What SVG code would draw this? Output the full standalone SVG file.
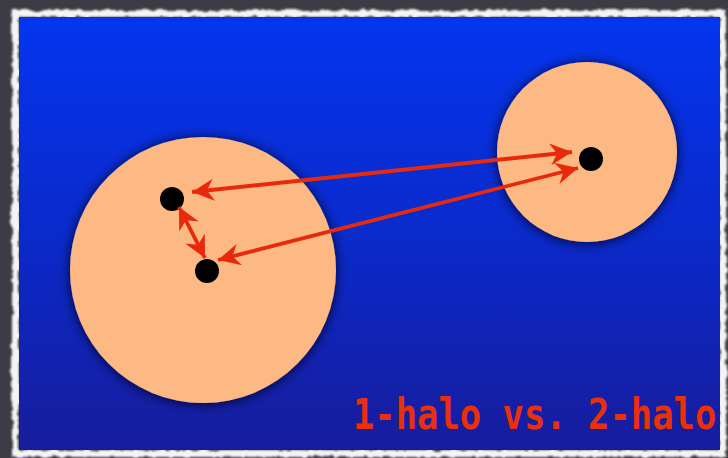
<svg xmlns="http://www.w3.org/2000/svg" width="728" height="458" viewBox="0 0 728 458">
  <defs>
    <linearGradient id="bg" x1="0" y1="0" x2="0" y2="1">
      <stop offset="0" stop-color="#0435ee"/>
      <stop offset="0.5" stop-color="#0a2acb"/>
      <stop offset="1" stop-color="#171c9c"/>
    </linearGradient>
    <filter id="rough" x="-5%" y="-5%" width="110%" height="110%">
      <feTurbulence type="fractalNoise" baseFrequency="0.12" numOctaves="2" seed="3" result="n"/>
      <feDisplacementMap in="SourceGraphic" in2="n" scale="6" xChannelSelector="R" yChannelSelector="G"/>
      <feGaussianBlur stdDeviation="0.8"/>
    </filter>
    <filter id="shadow" x="-20%" y="-20%" width="140%" height="140%">
      <feDropShadow dx="0" dy="1" stdDeviation="6" flood-color="#000020" flood-opacity="0.95"/>
    </filter>
    <marker id="head" viewBox="0 0 22 22" refX="22" refY="11" markerWidth="22" markerHeight="22" markerUnits="userSpaceOnUse" orient="auto-start-reverse">
      <path d="M22,11 L0,0 L7,11 L0,22 Z" fill="#e82a0c"/>
    </marker>
    <style>
      .halo { fill: #fdb983; filter: url(#shadow); }
      .dot { fill: #000; }
      .link { stroke: #e82a0c; stroke-width: 3.8; fill: none; marker-start: url(#head); marker-end: url(#head); }
      .label { font-family: "DejaVu Sans Mono", "Liberation Mono", monospace; font-weight: bold; fill: #e8300a; }
    </style>
  </defs>
  <rect width="728" height="458" fill="#3c3c44"/>
  <rect x="15.5" y="13.5" width="707" height="440" fill="none" stroke="#f4f4f4" stroke-width="7" filter="url(#rough)"/>
  <rect x="19" y="17" width="701" height="433" fill="url(#bg)"/>
  <g id="halo-big"><circle class="halo" cx="203" cy="270" r="133"/></g>
  <g id="halo-small"><circle class="halo" cx="587" cy="152" r="90"/></g>
  <g id="dot-a"><circle class="dot" cx="172" cy="199" r="12"/></g>
  <g id="dot-b"><circle class="dot" cx="207" cy="271" r="12"/></g>
  <g id="dot-c"><circle class="dot" cx="591" cy="159" r="12"/></g>
  <g id="connectors">
    <line class="link" x1="192" y1="192" x2="572" y2="152"/>
    <line class="link" x1="218" y1="260" x2="578" y2="168"/>
    <line class="link" x1="179" y1="207" x2="205" y2="258"/>
  </g>
  <g id="caption">
    <text class="label" transform="translate(353,429) scale(1,1.2)" x="0" y="0" font-size="35.5">1-halo vs. 2-halo</text>
  </g>
</svg>
